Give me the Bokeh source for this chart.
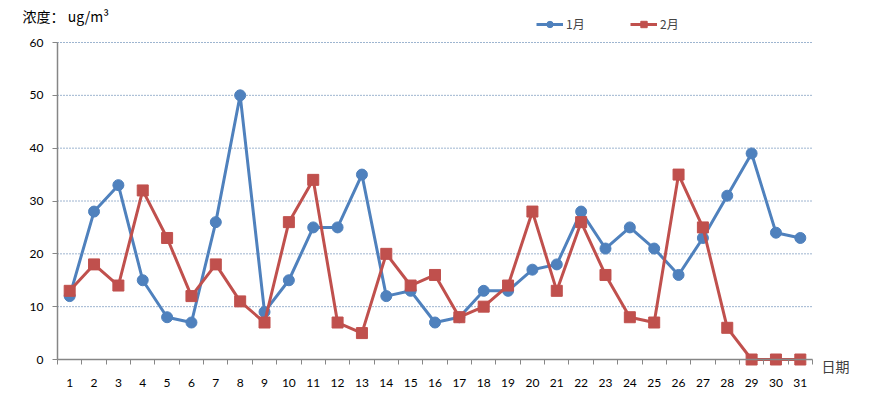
from bokeh.plotting import figure
from bokeh.models import (ColumnDataSource, FixedTicker, Legend, LegendItem, Label, Range1d)
from bokeh.embed import file_html
from bokeh.resources import INLINE

days = list(range(1, 32))
day_labels = [str(d) for d in days]
jan = [12, 28, 33, 15, 8, 7, 26, 50, 9, 15, 25, 25, 35, 12, 13, 7, 8, 13, 13, 17,
       18, 28, 21, 25, 21, 16, 23, 31, 39, 24, 23]
feb = [13, 18, 14, 32, 23, 12, 18, 11, 7, 26, 34, 7, 5, 20, 14, 16, 8, 10, 14, 28,
       13, 26, 16, 8, 7, 35, 25, 6, 0, 0, 0]
y_ticks = [0, 10, 20, 30, 40, 50, 60]
series_names = ["1月", "2月"]
title_text = "浓度： ug/m³"
x_title = "日期"

BLUE = "#4F81BD"
RED = "#C0504D"
AX = "#868686"
GRID = "#3C6AA0"
NUMFONT = "Lato"
CJK = "Noto Sans CJK SC"

W, H = 853, 388
# plot area in pixels (left, right, top, bottom)
PL, PR, PT, PB = 57, 812, 42, 359
x_lo, x_hi = days[0] - 0.5, days[-1] + 0.5
y_lo, y_hi = y_ticks[0], y_ticks[-1]
kx = (PR - PL) / (x_hi - x_lo)
ky = (PB - PT) / (y_hi - y_lo)
x_range = Range1d(x_lo - PL / kx, x_hi + (W - PR) / kx)
y_range = Range1d(y_lo - (H - PB) / ky, y_hi + PT / ky)

src = ColumnDataSource(dict(x=days, jan=jan, feb=feb))
grid_src = ColumnDataSource(dict(x0=[x_lo] * (len(y_ticks) - 1), x1=[x_hi] * (len(y_ticks) - 1),
                                 y=y_ticks[1:]))

p = figure(width=W, height=H, output_backend="svg", toolbar_location=None,
           x_range=x_range, y_range=y_range,
           min_border_left=0, min_border_right=0, min_border_top=0, min_border_bottom=0)
p.outline_line_color = None
p.background_fill_color = "white"
p.border_fill_color = "white"
p.xgrid.grid_line_color = None
p.ygrid.grid_line_color = None

# grid lines (dotted) between the first and last category boundary
p.segment("x0", "y", "x1", "y", source=grid_src, line_color=GRID, line_dash="1 2", line_width=1)

# x axis
p.xaxis.fixed_location = y_lo
p.xaxis.bounds = (x_lo, x_hi)
p.xaxis.ticker = FixedTicker(ticks=days, minor_ticks=[d - 0.5 for d in days] + [x_hi])
p.xaxis.major_label_overrides = {d: s for d, s in zip(days, day_labels)}
p.xaxis.major_tick_line_color = None
p.xaxis.major_tick_out = 0
p.xaxis.major_tick_in = 0
p.xaxis.minor_tick_line_color = AX
p.xaxis.minor_tick_out = 5
p.xaxis.minor_tick_in = 0
p.xaxis.axis_line_color = AX
p.xaxis.axis_line_width = 1.5
p.xaxis.major_label_standoff = 14
p.xaxis.major_label_text_font = NUMFONT
p.xaxis.major_label_text_font_size = "12px"
p.xaxis.major_label_text_color = "#000000"

# y axis
p.yaxis.fixed_location = x_lo
p.yaxis.bounds = (y_lo, y_hi)
p.yaxis.ticker = FixedTicker(ticks=y_ticks, minor_ticks=[])
p.yaxis.major_tick_line_color = AX
p.yaxis.major_tick_out = 5
p.yaxis.major_tick_in = 0
p.yaxis.minor_tick_line_color = None
p.yaxis.axis_line_color = AX
p.yaxis.axis_line_width = 1.5
p.yaxis.major_label_standoff = 9
p.yaxis.major_label_text_font = NUMFONT
p.yaxis.major_label_text_font_size = "12px"
p.yaxis.major_label_text_color = "#000000"

l1 = p.line("x", "jan", source=src, line_color=BLUE, line_width=3)
s1 = p.scatter("x", "jan", source=src, marker="circle", size=11, fill_color=BLUE, line_color=BLUE)
l2 = p.line("x", "feb", source=src, line_color=RED, line_width=3)
s2 = p.scatter("x", "feb", source=src, marker="square", size=11, fill_color=RED, line_color=RED)

legend = Legend(items=[LegendItem(label=series_names[0], renderers=[l1, s1]),
                       LegendItem(label=series_names[1], renderers=[l2, s2])],
                orientation="horizontal", location=(536, H - 32),
                padding=0, margin=0, spacing=44, glyph_width=27, glyph_height=16,
                label_standoff=3, label_text_font=CJK, label_text_font_size="12px",
                label_height=16, background_fill_alpha=0, border_line_color=None)
p.add_layout(legend, "center")

p.add_layout(Label(x=22, y=H - 15, x_units="screen", y_units="screen", text=title_text,
                   text_font=CJK, text_font_size="14px", text_color="#000000",
                   text_baseline="middle"))
p.add_layout(Label(x=821, y=H - 365, x_units="screen", y_units="screen", text=x_title,
                   text_font=CJK, text_font_size="14px", text_color="#404040",
                   text_baseline="middle"))

open("out.html", "w").write(file_html(p, INLINE))
